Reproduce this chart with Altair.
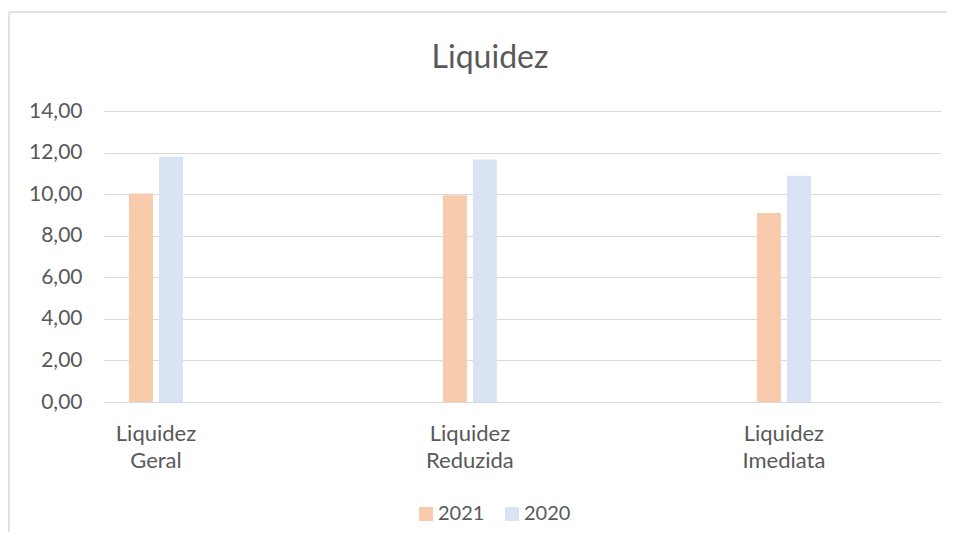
import altair as alt
import pandas as pd

categories = ["Liquidez Geral", "Liquidez Reduzida", "Liquidez Imediata"]
series = ["2021", "2020"]
values_2021 = [10.03, 9.95, 9.09]
values_2020 = [11.80, 11.67, 10.88]
y_ticks = [0, 2, 4, 6, 8, 10, 12, 14]
colors = ["#F8CBAD", "#DAE3F3"]
chart_title = "Liquidez"

rows = []
for c, a, b in zip(categories, values_2021, values_2020):
    rows.append({"cat": c, "serie": "2021", "valor": a})
    rows.append({"cat": c, "serie": "2020", "valor": b})
df = pd.DataFrame(rows)

FONT = "Lato"
TXT = "#595959"
GRID = "#D9D9D9"

bars = alt.Chart(df).mark_bar().encode(
    x=alt.X("cat:N", sort=categories, title=None,
            scale=alt.Scale(paddingInner=0.828, paddingOuter=0.247, align=0.161),
            axis=alt.Axis(labelAngle=0, labelExpr="split(datum.label, ' ')",
                          labelFontSize=22, labelColor=TXT, labelFont=FONT,
                          labelPadding=21, labelLineHeight=27,
                          ticks=False, domainColor=GRID, domainWidth=1.2,
                          labelBaseline="top")),
    xOffset=alt.XOffset("serie:N", sort=series,
                        scale=alt.Scale(paddingInner=0.2, paddingOuter=0)),
    y=alt.Y("valor:Q", title=None,
            scale=alt.Scale(domain=[0, 14], nice=False),
            axis=alt.Axis(values=y_ticks, labelExpr="replace(format(datum.value, '.2f'), '.', ',')",
                          labelFontSize=21, labelColor=TXT, labelFont=FONT,
                          labelPadding=22, ticks=False, domain=False,
                          gridColor=GRID, gridWidth=1.2)),
    color=alt.Color("serie:N", sort=series, title=None,
                    scale=alt.Scale(domain=series, range=colors),
                    legend=alt.Legend(orient="none", direction="horizontal",
                                      legendX=312, legendY=393,
                                      symbolType="square", symbolSize=196,
                                      symbolStrokeWidth=0,
                                      labelFontSize=20, labelColor=TXT, labelFont=FONT,
                                      labelOffset=2, columnPadding=17)),
)

one = alt.Data(values=[{"t": chart_title}])
border = alt.Chart(one).mark_rule(color=GRID, strokeWidth=1.5).encode(
    x=alt.value(-95), y=alt.value(-99), y2=alt.value(440)
)
border_top = alt.Chart(one).mark_rule(color=GRID, strokeWidth=1.5).encode(
    x=alt.value(-95), x2=alt.value(851), y=alt.value(-99)
)
title = alt.Chart(one).mark_text(font=FONT, fontSize=32, color=TXT,
                                 align="center", baseline="alphabetic").encode(
    text="t:N", x=alt.value(386), y=alt.value(-43)
)

chart = alt.layer(border, border_top, title, bars).properties(
    width=837, height=291,
    autosize=alt.AutoSizeParams(type="none"),
    padding={"left": 96, "top": 103, "right": 6, "bottom": 130},
).configure_view(stroke=None)

chart.save("out.html", embed_options={"renderer": "svg", "actions": False})
